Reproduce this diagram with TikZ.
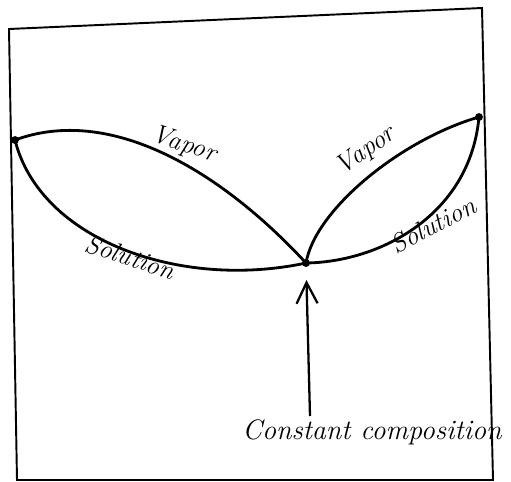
\documentclass[tikz,border=0pt]{standalone}
\usepackage{tikz}
\usetikzlibrary{arrows.meta}

\begin{document}
\begin{tikzpicture}[
    x=0.02cm, y=-0.02cm,
    curve/.style={line width=1.6pt, line cap=round},
    dot/.style={circle, fill, inner sep=0pt, minimum size=4.5pt},
    lbl/.style={font=\fontsize{15}{15}\selectfont\itshape, inner sep=0pt},
    pointer/.style={line width=1.3pt, shorten >=0.34cm,
      -{Straight Barb[length=4.2mm, width=4.2mm, line width=1.3pt]}}
  ]
    \useasboundingbox (0,0) rectangle (511,481);
    % frame
    \draw[line width=1.1pt] (9,29) -- (482,8) -- (493,480) -- (17,480) -- cycle;

    \node[dot] (lpt) at (15,140) {};
    \node[dot] (cpt) at (306,263) {};
    \node[dot] (rpt) at (479,117) {};

    % left loop
    \draw[curve] (lpt.center) .. controls (110,105) and (220,170) .. (cpt.center);
    \draw[curve] (lpt.center) .. controls (40,240) and (180,290) .. (cpt.center);
    % right loop
    \draw[curve] (cpt.center) .. controls (315,210) and (400,140) .. (rpt.center);
    \draw[curve] (cpt.center) .. controls (380,262) and (470,215) .. (rpt.center);

    \node[lbl, rotate=-18] (vapl) at (184,145) {Vapor};
    \node[lbl, rotate=-18] (soll) at (130,257) {Solution};
    \node[lbl, rotate=35] (vapr) at (366,151) {Vapor};
    \node[lbl, rotate=28] (solr) at (433,225) {Solution};

    \node[font=\fontsize{16}{16}\selectfont\itshape] (note) at (372,432) {Constant composition};
    \coordinate (tail) at (310,416);
    \draw[pointer] (tail) -- (cpt.center);
  \end{tikzpicture}
\end{document}
